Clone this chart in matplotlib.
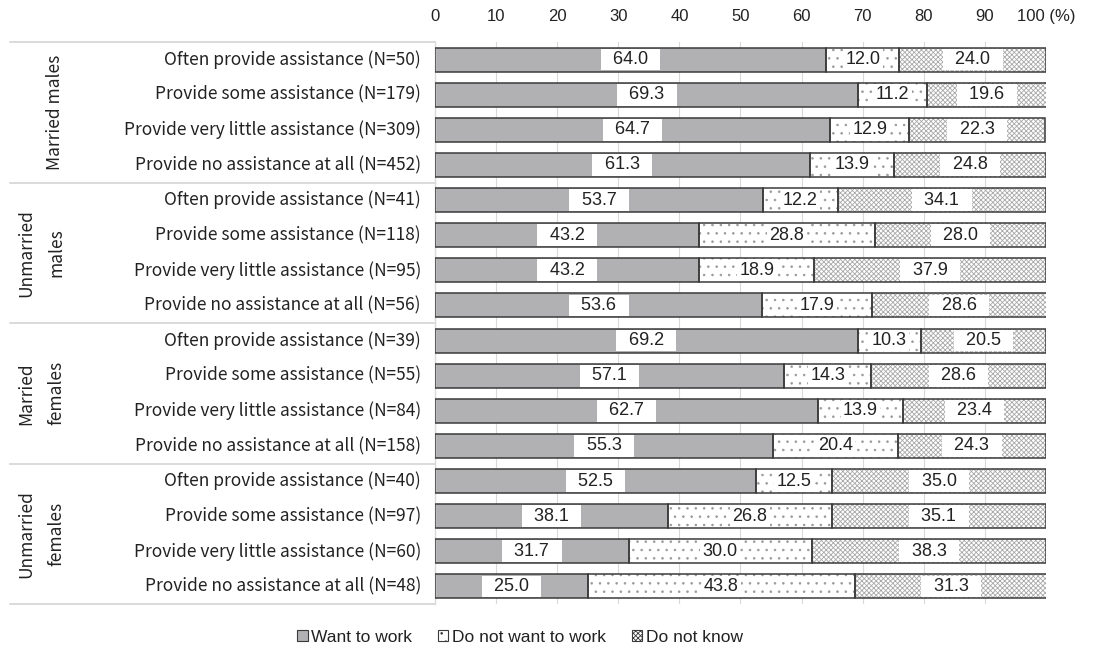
import matplotlib
matplotlib.use("Agg")
import matplotlib.pyplot as plt
from matplotlib.patches import Patch
from matplotlib.lines import Line2D
import numpy as np

plt.rcParams["hatch.linewidth"] = 0.6

groups = ["Married males", "Unmarried\nmales", "Married\nfemales", "Unmarried\nfemales"]
levels = ["Often provide assistance", "Provide some assistance",
          "Provide very little assistance", "Provide no assistance at all"]
n_obs = [50, 179, 309, 452, 41, 118, 95, 56, 39, 55, 84, 158, 40, 97, 60, 48]
want = [64.0, 69.3, 64.7, 61.3, 53.7, 43.2, 43.2, 53.6,
        69.2, 57.1, 62.7, 55.3, 52.5, 38.1, 31.7, 25.0]
not_want = [12.0, 11.2, 12.9, 13.9, 12.2, 28.8, 18.9, 17.9,
            10.3, 14.3, 13.9, 20.4, 12.5, 26.8, 30.0, 43.8]
dont_know = [24.0, 19.6, 22.3, 24.8, 34.1, 28.0, 37.9, 28.6,
             20.5, 28.6, 23.4, 24.3, 35.0, 35.1, 38.3, 31.3]
series = ["Want to work", "Do not want to work", "Do not know"]
ticks = [0, 10, 20, 30, 40, 50, 60, 70, 80, 90, 100]

JP = ["Noto Sans CJK JP", "DejaVu Sans"]
NUM = ["Liberation Sans", "DejaVu Sans"]
TXT = "#222222"

fig = plt.figure(figsize=(11.04, 6.49), dpi=100)
ax = fig.add_axes([435 / 1104, 1 - 604 / 649, 611 / 1104, 562 / 649])

rows = len(want)
y = np.arange(rows)
styles = [
    dict(color="#b1b1b4", hatch=None, hcol="#b1b1b4", wide=True),
    dict(color="white", hatch="..", hcol="#9a9a9a", wide=False),
    dict(color="white", hatch="xxxxxxx", hcol="#a9a9a9", wide=True),
]
left = np.zeros(rows)
for vals, st in zip([want, not_want, dont_know], styles):
    vals = np.array(vals)
    ax.barh(y, vals, left=left, height=0.68, color=st["color"],
            edgecolor=st["hcol"], hatch=st["hatch"], lw=0, zorder=2)
    # outline drawn separately so the hatch keeps its own colour
    ax.barh(y, vals, left=left, height=0.68, facecolor="none",
            edgecolor="#3a3a3a", lw=1.1, zorder=3)
    for yi, l, v in zip(y, left, vals):
        lab = f"  {v:.1f}  " if st["wide"] else f"{v:.1f}"
        ax.text(l + v / 2, yi, lab, ha="center", va="center",
                fontsize=13, family=NUM, color=TXT, zorder=4,
                bbox=dict(boxstyle="square,pad=0.13", fc="white", ec="none"))
    left += vals

ax.set_xlim(0, 100)
ax.set_ylim(rows - 0.5, -0.5)
ax.set_xticks(ticks)
ax.set_xticklabels([str(t) for t in ticks[:-1]] + ["100 (%)"], family=NUM,
                   fontsize=12, color=TXT)
ax.xaxis.tick_top()
ax.tick_params(axis="x", length=0, pad=13)
ax.set_yticks([])
ax.grid(axis="x", color="#d9d9d9", lw=0.8, zorder=0)
ax.set_axisbelow(True)
for s in ax.spines.values():
    s.set_visible(False)

trans = ax.get_yaxis_transform()
x_px = lambda px: (px - 435) / 611
for i in range(rows):
    ax.text(x_px(421), i, f"{levels[i % 4]} (N={n_obs[i]})", transform=trans,
            ha="right", va="center", fontsize=12.5, family=JP, color=TXT)
for g, name in enumerate(groups):
    yc = g * 4 + 1.5
    lines = name.split("\n")
    xs = [55] if len(lines) == 1 else [26, 56]
    for xp, ln in zip(xs, lines):
        ax.text(x_px(xp), yc, ln, transform=trans, rotation=90,
                ha="center", va="center", fontsize=12.5, family=JP, color=TXT)
for b in [-0.5, 3.5, 7.5, 11.5, 15.5]:
    ax.add_line(Line2D([x_px(10), 0], [b, b], transform=trans, color="#d4d4d4",
                       lw=1.2, clip_on=False))
ax.add_line(Line2D([0, 0], [-0.5, rows - 0.5], transform=trans, color="#dadada",
                   lw=1.0, clip_on=False))

handles = [Patch(facecolor=st["color"], edgecolor="#3a3a3a", hatch=st["hatch"], lw=0.8)
           for st in styles]
fig.legend(handles, series, loc="center", bbox_to_anchor=(0.471, 1 - 637 / 649),
           ncol=3, frameon=False, prop=dict(family=NUM, size=12.5),
           handlelength=0.6, handleheight=0.6, handletextpad=0.2, columnspacing=1.5,
           labelcolor=TXT)

fig.savefig("out.png", dpi=100)
